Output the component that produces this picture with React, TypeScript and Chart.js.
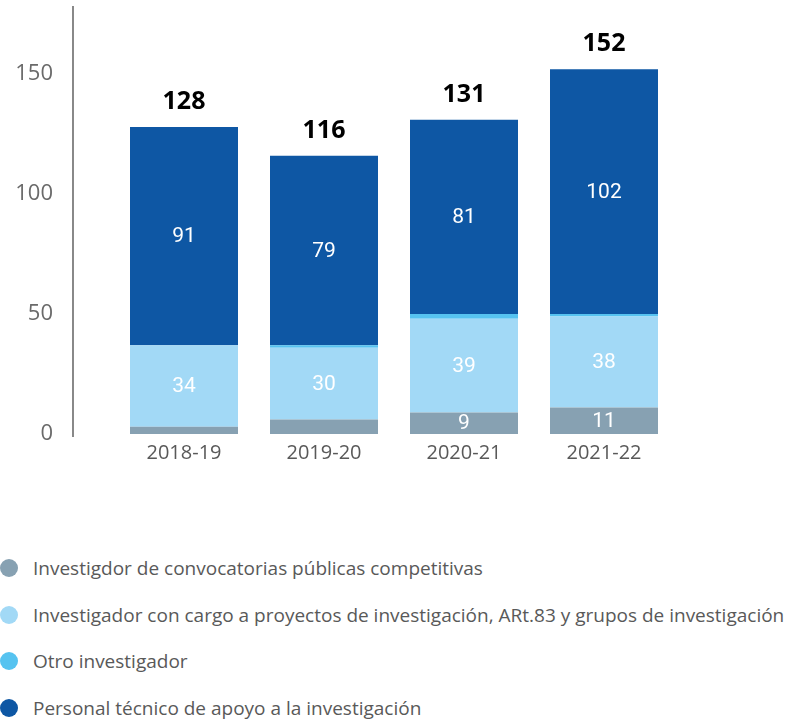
import React, { useEffect, useRef } from "react";
import { Chart, registerables } from "chart.js";

Chart.register(...registerables);

const categories = ["2018-19", "2019-20", "2020-21", "2021-22"];
const convocatorias = [3, 6, 9, 11];
const proyectos = [34, 30, 39, 38];
const otro = [0, 1, 2, 1];
const tecnico = [91, 79, 81, 102];
const yTickValues = [0, 50, 100, 150];

const seriesNames = [
  "Investigdor de convocatorias públicas competitivas",
  "Investigador con cargo a proyectos de investigación, ARt.83 y grupos de investigación",
  "Otro investigador",
  "Personal técnico de apoyo a la investigación",
];
const seriesColors = ["#87a1b2", "#a2d9f6", "#56c3f0", "#0e57a4"];
const seriesData = [convocatorias, proyectos, otro, tecnico];

const CANVAS_W = 799;
const CANVAS_H = 480;
const X_AXIS_H = 46;

const valueLabelsPlugin = {
  id: "valueLabels",
  afterDatasetsDraw(chart: any) {
    const ctx = chart.ctx;
    ctx.save();
    ctx.textAlign = "center";
    ctx.textBaseline = "middle";
    ctx.font = "400 21px Roboto";
    ctx.fillStyle = "#ffffff";
    chart.data.datasets.forEach((ds: any, di: number) => {
      const meta = chart.getDatasetMeta(di);
      meta.data.forEach((bar: any, i: number) => {
        const v = ds.data[i];
        const h = bar.base - bar.y;
        if (h >= 18 && v > 0) {
          ctx.fillText(String(v), bar.x, (bar.y + bar.base) / 2 + 1);
        }
      });
    });
    const lastMeta = chart.getDatasetMeta(chart.data.datasets.length - 1);
    ctx.font = "700 25px 'Open Sans'";
    ctx.fillStyle = "#000000";
    lastMeta.data.forEach((bar: any, i: number) => {
      const total = chart.data.datasets.reduce((s: number, ds: any) => s + ds.data[i], 0);
      ctx.fillText(String(total), bar.x, bar.y - 25);
    });
    ctx.restore();
  },
};

const axisLinePlugin = {
  id: "axisLine",
  afterDraw(chart: any) {
    const { ctx, chartArea } = chart;
    const x = chartArea.left - 41;
    ctx.save();
    ctx.strokeStyle = "#6b6b6b";
    ctx.lineWidth = 1.6;
    ctx.beginPath();
    ctx.moveTo(x, chartArea.top - 1);
    ctx.lineTo(x, chartArea.bottom + 3);
    ctx.stroke();
    ctx.restore();
  },
};

function BarChart() {
  const ref = useRef<HTMLCanvasElement>(null);
  useEffect(() => {
    if (!ref.current) return;
    const chart = new Chart(ref.current, {
      type: "bar",
      data: {
        labels: categories,
        datasets: seriesData.map((d, i) => ({
          label: seriesNames[i],
          data: d,
          backgroundColor: seriesColors[i],
          borderWidth: 0,
          categoryPercentage: 1,
          barPercentage: 0.7714,
        })),
      },
      options: {
        responsive: false,
        animation: false,
        layout: { padding: { top: 7, right: 125, left: 0, bottom: 0 } },
        plugins: {
          legend: { display: false },
          tooltip: { enabled: false },
        },
        scales: {
          x: {
            stacked: true,
            grid: { display: false, drawTicks: false },
            border: { display: false },
            ticks: {
              color: "#595959",
              font: { family: "'Open Sans'", size: 20 },
              padding: 7,
            },
            afterFit: (scale: any) => {
              scale.height = X_AXIS_H;
              scale.paddingLeft = 0;
              scale.paddingRight = 0;
            },
          },
          y: {
            stacked: true,
            min: 0,
            max: 178,
            grid: { display: false, drawTicks: false },
            border: { display: false },
            afterBuildTicks: (scale: any) => {
              scale.ticks = yTickValues.map((v) => ({ value: v }));
            },
            ticks: {
              color: "#6a6a6a",
              font: { family: "'Open Sans'", size: 22, weight: "400" },
              padding: 61,
            },
            afterFit: (scale: any) => {
              scale.width = 114;
              scale.paddingTop = 0;
              scale.paddingBottom = 0;
            },
          },
        },
      },
      plugins: [valueLabelsPlugin, axisLinePlugin],
    } as any);
    return () => chart.destroy();
  }, []);
  return (
    <canvas
      ref={ref}
      width={CANVAS_W}
      height={CANVAS_H}
      style={{ position: "absolute", left: 0, top: 0, width: CANVAS_W, height: CANVAS_H }}
    />
  );
}

export default function App() {
  return (
    <div
      style={{
        position: "absolute",
        left: 0,
        top: 0,
        width: 799,
        height: 720,
        background: "#ffffff",
        overflow: "hidden",
      }}
    >
      <BarChart />
      {seriesNames.map((name, i) => (
        <div
          key={name}
          style={{
            position: "absolute",
            left: 0,
            top: 545 + i * 46.5,
            height: 46,
            display: "flex",
            alignItems: "center",
            whiteSpace: "nowrap",
          }}
        >
          <span
            style={{
              display: "inline-block",
              width: 18,
              height: 18,
              borderRadius: 9,
              background: seriesColors[i],
              marginRight: 15,
              flex: "none",
            }}
          />
          <span
            style={{
              fontFamily: "'Open Sans'",
              fontSize: 19,
              color: "#595959",
            }}
          >
            {name}
          </span>
        </div>
      ))}
    </div>
  );
}
